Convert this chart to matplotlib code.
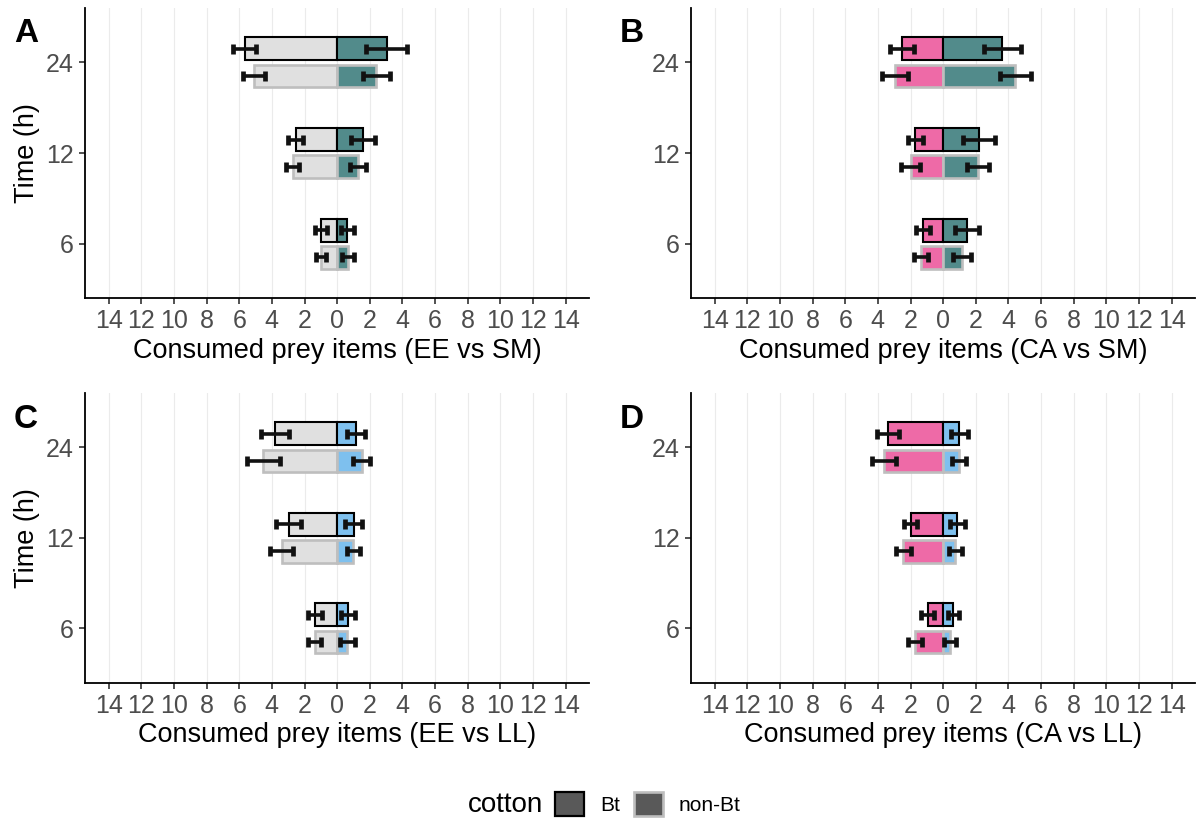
import matplotlib
matplotlib.use("Agg")
import matplotlib.pyplot as plt
from matplotlib.patches import Patch
import numpy as np

plt.rcParams['font.family'] = ['Liberation Sans', 'DejaVu Sans']

times = ["6", "12", "24"]
cotton = ["Bt", "non-Bt"]

# Panel A: EE (left) vs SM (right)
A_left_Bt = [0.98, 2.55, 5.66]
A_left_Bt_se = [0.35, 0.48, 0.70]
A_right_Bt = [0.61, 1.57, 3.03]
A_right_Bt_se = [0.40, 0.74, 1.27]
A_left_nBt = [1.0, 2.73, 5.09]
A_left_nBt_se = [0.32, 0.41, 0.66]
A_right_nBt = [0.65, 1.30, 2.41]
A_right_nBt_se = [0.38, 0.49, 0.82]

# Panel B: CA (left) vs SM (right)
B_left_Bt = [1.25, 1.70, 2.53]
B_left_Bt_se = [0.43, 0.46, 0.73]
B_right_Bt = [1.45, 2.21, 3.63]
B_right_Bt_se = [0.74, 0.97, 1.15]
B_left_nBt = [1.35, 2.0, 2.94]
B_left_nBt_se = [0.43, 0.56, 0.79]
B_right_nBt = [1.16, 2.15, 4.43]
B_right_nBt_se = [0.54, 0.68, 0.95]

# Panel C: EE (left) vs LL (right)
C_left_Bt = [1.35, 2.98, 3.81]
C_left_Bt_se = [0.42, 0.77, 0.83]
C_right_Bt = [0.68, 1.02, 1.17]
C_right_Bt_se = [0.43, 0.52, 0.55]
C_left_nBt = [1.38, 3.40, 4.52]
C_left_nBt_se = [0.38, 0.72, 1.03]
C_right_nBt = [0.62, 1.0, 1.50]
C_right_nBt_se = [0.46, 0.42, 0.54]

# Panel D: CA (left) vs LL (right)
D_left_Bt = [0.95, 2.0, 3.38]
D_left_Bt_se = [0.39, 0.42, 0.67]
D_right_Bt = [0.63, 0.85, 1.0]
D_right_Bt_se = [0.36, 0.46, 0.53]
D_left_nBt = [1.72, 2.44, 3.63]
D_left_nBt_se = [0.41, 0.45, 0.72]
D_right_nBt = [0.43, 0.75, 0.99]
D_right_nBt_se = [0.38, 0.42, 0.44]

xticks = list(range(-14, 15, 2))
xticklabels = [str(abs(v)) for v in xticks]

GRAY = '#E0E0E0'
TEAL = '#528B8B'
PINK = '#EE6AA7'
BLUE = '#7EC0EE'

panels = [
    dict(label='A', pos=[85, 8, 589.3, 298.3], xlab='Consumed prey items (EE vs SM)',
         lc=GRAY, rc=TEAL, data=(A_left_Bt, A_left_Bt_se, A_right_Bt, A_right_Bt_se,
                                 A_left_nBt, A_left_nBt_se, A_right_nBt, A_right_nBt_se)),
    dict(label='B', pos=[691, 8, 1195.3, 298.3], xlab='Consumed prey items (CA vs SM)',
         lc=PINK, rc=TEAL, data=(B_left_Bt, B_left_Bt_se, B_right_Bt, B_right_Bt_se,
                                 B_left_nBt, B_left_nBt_se, B_right_nBt, B_right_nBt_se)),
    dict(label='C', pos=[85, 393, 589.3, 682.7], xlab='Consumed prey items (EE vs LL)',
         lc=GRAY, rc=BLUE, data=(C_left_Bt, C_left_Bt_se, C_right_Bt, C_right_Bt_se,
                                 C_left_nBt, C_left_nBt_se, C_right_nBt, C_right_nBt_se)),
    dict(label='D', pos=[691, 393, 1195.3, 682.7], xlab='Consumed prey items (CA vs LL)',
         lc=PINK, rc=BLUE, data=(D_left_Bt, D_left_Bt_se, D_right_Bt, D_right_Bt_se,
                                 D_left_nBt, D_left_nBt_se, D_right_nBt, D_right_nBt_se)),
]

W, H = 1201, 825
fig = plt.figure(figsize=(W / 100, H / 100), dpi=100)

ypos = np.arange(1, len(times) + 1)
off = 0.15
bh = 0.25

for i, p in enumerate(panels):
    x0, y0, x1, y1 = p['pos']
    ax = fig.add_axes([x0 / W, 1 - y1 / H, (x1 - x0) / W, (y1 - y0) / H])
    lB, lBse, rB, rBse, lN, lNse, rN, rNse = p['data']
    yN = ypos - off
    yB = ypos + off
    for yy, l, lse, r, rse, ec, lw in [(yN, lN, lNse, rN, rNse, '#BEBEBE', 1.9),
                                       (yB, lB, lBse, rB, rBse, 'black', 1.5)]:
        ax.barh(yy, -np.array(l), height=bh, left=0, color=p['lc'], edgecolor=ec,
                linewidth=lw, zorder=3)
        ax.barh(yy, np.array(r), height=bh, left=0, color=p['rc'], edgecolor=ec,
                linewidth=lw, zorder=3)
        ax.errorbar(-np.array(l), yy, xerr=lse, fmt='none', ecolor='#111111',
                    elinewidth=2.6, capsize=3.8, capthick=3.4, zorder=4)
        ax.errorbar(np.array(r), yy, xerr=rse, fmt='none', ecolor='#111111',
                    elinewidth=2.6, capsize=3.8, capthick=3.4, zorder=4)
    ax.set_xlim(-15.45, 15.45)
    ax.set_ylim(0.4, 3.6)
    ax.set_xticks(xticks)
    ax.set_xticklabels(xticklabels)
    ax.set_yticks(ypos)
    ax.set_yticklabels(times)
    for xv in xticks:
        ax.axvline(xv, color='#EBEBEB', lw=0.8, zorder=0)
    for s in ['top', 'right']:
        ax.spines[s].set_visible(False)
    for s in ['left', 'bottom']:
        ax.spines[s].set_linewidth(1.3)
        ax.spines[s].set_color('black')
    ax.tick_params(axis='both', length=4, width=1.2, color='#333333',
                   labelsize=18, labelcolor='#4D4D4D', pad=4)
    ax.set_xlabel(p['xlab'], fontsize=19.5, color='black', labelpad=3)
    if i % 2 == 0:
        ax.set_ylabel('Time (h)', fontsize=19.5, color='black', labelpad=4)
    fig.text((x0 - 71) / W, 1 - 34 / H - y0 / H + 8 / H, p['label'], fontsize=24,
             fontweight='bold', ha='left', va='center')

# legend
fig.text(543 / W, 1 - 805 / H, 'cotton', fontsize=20, ha='right', va='center')
handles = [Patch(facecolor='#595959', edgecolor='black', linewidth=1.6),
           Patch(facecolor='#595959', edgecolor='#BEBEBE', linewidth=1.9)]
fig.legend(handles, cotton, loc='center left', bbox_to_anchor=(555 / W, 1 - 804 / H),
           ncol=2, frameon=False, fontsize=15, handlelength=1.4, handleheight=1.35,
           columnspacing=0.7, handletextpad=0.75, borderaxespad=0, borderpad=0)

fig.savefig('out.png', dpi=100)
